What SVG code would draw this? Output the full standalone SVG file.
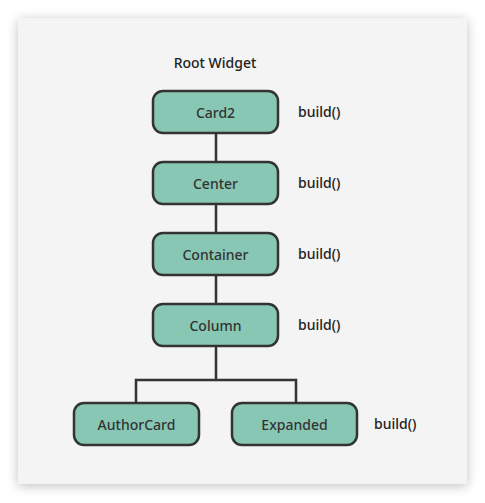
<svg xmlns="http://www.w3.org/2000/svg" width="485" height="503" viewBox="0 0 485 503">
<defs>
<filter id="sh" x="-10%" y="-10%" width="120%" height="120%">
<feGaussianBlur in="SourceAlpha" stdDeviation="6"/>
<feOffset dx="0" dy="2"/>
<feComponentTransfer><feFuncA type="linear" slope="0.25"/></feComponentTransfer>
<feMerge><feMergeNode/><feMergeNode in="SourceGraphic"/></feMerge>
</filter>
<style>
.node rect{fill:#88c7b3;stroke:#333;stroke-width:2.5}
.node text{font-family:"Noto Sans","Open Sans",sans-serif;font-size:14px;font-weight:500;fill:#333;text-anchor:middle;dominant-baseline:central}
.lbl{font-family:"Noto Sans","Open Sans",sans-serif;font-size:14px;font-weight:500;fill:#222}
.edge{fill:none;stroke:#333;stroke-width:2.5}
</style>
</defs>
<rect width="485" height="503" fill="#fff"/>
<rect x="18" y="18" width="449" height="466" fill="#f4f4f4" filter="url(#sh)"/>
<text class="lbl" x="215" y="68" text-anchor="middle">Root Widget</text>
<g id="connectors">
<path class="edge" d="M216 133V162M216 204V233M216 275V304M216 346V380M136 403V380H296V403"/>
</g>
<g id="card2" class="node"><rect x="153" y="91" width="125" height="42" rx="10"/><text x="215.5" y="112">Card2</text></g>
<g id="center" class="node"><rect x="153" y="162" width="125" height="42" rx="10"/><text x="215.5" y="183">Center</text></g>
<g id="container" class="node"><rect x="153" y="233" width="125" height="42" rx="10"/><text x="215.5" y="254">Container</text></g>
<g id="column" class="node"><rect x="153" y="304" width="125" height="42" rx="10"/><text x="215.5" y="325">Column</text></g>
<g id="authorcard" class="node"><rect x="74" y="403" width="125" height="42" rx="10"/><text x="136.5" y="424">AuthorCard</text></g>
<g id="expanded" class="node"><rect x="232" y="403" width="125" height="42" rx="10"/><text x="294.5" y="424">Expanded</text></g>
<text class="lbl" x="298" y="117">build()</text>
<text class="lbl" x="298" y="188">build()</text>
<text class="lbl" x="298" y="259">build()</text>
<text class="lbl" x="298" y="330">build()</text>
<text class="lbl" x="374" y="429">build()</text>
</svg>
